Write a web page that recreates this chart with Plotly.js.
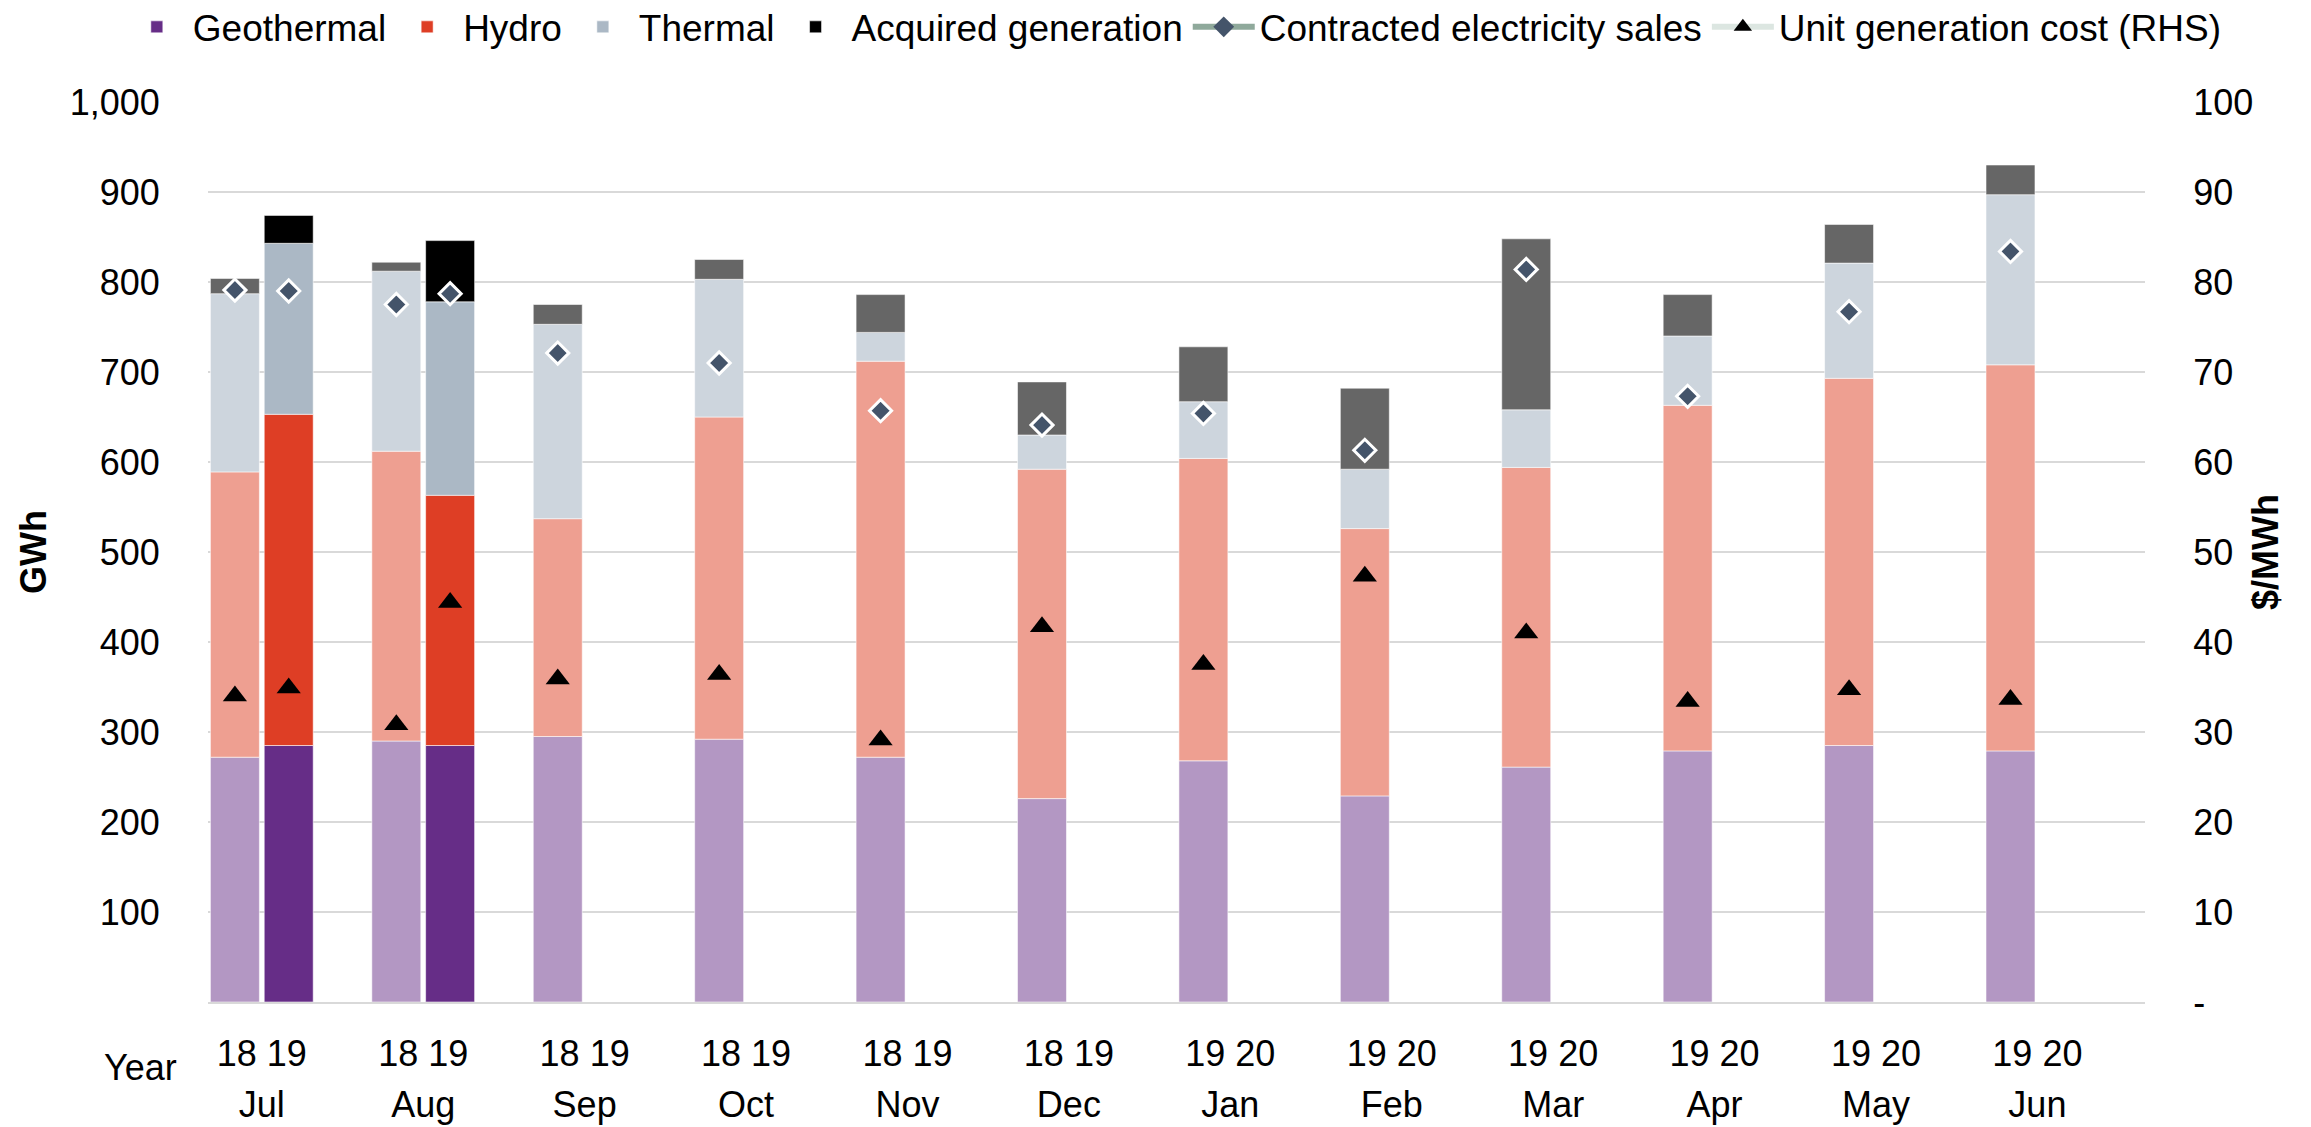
<!DOCTYPE html>
<html>
<head>
<meta charset="utf-8">
<script src="https://cdn.plot.ly/plotly-3.0.1.min.js"></script>
<style>html,body{margin:0;padding:0;background:#fff;}#chart{width:2311px;height:1127px;}</style>
</head>
<body>
<div id="chart"></div>
<script>
// ---- Data ----
const months = ['Jul','Aug','Sep','Oct','Nov','Dec','Jan','Feb','Mar','Apr','May','Jun'];
const priorYear = ['18','18','18','18','18','18','19','19','19','19','19','19'];
const currentYear = ['19','19','19','19','19','19','20','20','20','20','20','20'];

// prior-year (faded) bars, GWh
const geoPrior     = [272, 290, 295, 292, 272, 226, 268, 229, 261, 279, 285, 279];
const hydroPrior   = [317, 322, 242, 358, 440, 366, 336, 297, 333, 384, 408, 429];
const thermalPrior = [198, 200, 216, 153,  32,  38,  63,  66,  64,  77, 128, 189];
const acqPrior     = [ 17,  10,  22,  22,  42,  59,  61,  90, 190,  46,  43,  33];
const salesPrior   = [791, 775, 721, 710, 657, 641, 654, 613, 814, 673, 767, 834];
const costPrior    = [34.0, 30.8, 35.9, 36.4, 29.1, 41.7, 37.5, 47.3, 41.0, 33.4, 34.7, 33.6];

// current-year (solid) bars, GWh
const geoCur     = [285, 285, null, null, null, null, null, null, null, null, null, null];
const hydroCur   = [368, 278, null, null, null, null, null, null, null, null, null, null];
const thermalCur = [190, 215, null, null, null, null, null, null, null, null, null, null];
const acqCur     = [ 31,  68, null, null, null, null, null, null, null, null, null, null];
const salesCur   = [790, 787, null, null, null, null, null, null, null, null, null, null];
const costCur    = [34.9, 44.4, null, null, null, null, null, null, null, null, null, null];

// axis ticks
const leftTicks = [100, 200, 300, 400, 500, 600, 700, 800, 900, 1000];
const rightTicks = [0, 10, 20, 30, 40, 50, 60, 70, 80, 90, 100];
const rightTickText = ['-', '10', '20', '30', '40', '50', '60', '70', '80', '90', '100'];

// ---- Layout helpers ----
const SLOTS = 3; // prior, current, spacer
const xPrior = months.map((m, i) => i * SLOTS);
const xCur = months.map((m, i) => i * SLOTS + 1);
const xTick = months.map((m, i) => i * SLOTS + 0.5);
const yearTickText = months.map((m, i) => priorYear[i] + ' ' + currentYear[i]);
const xRange = [-0.5, months.length * SLOTS - 0.5];

const FONT = 'Liberation Sans, Arial, sans-serif';
const FS = 36;
const BW = 0.91;
const edge = {color: 'rgba(255,255,255,0.55)', width: 1};

function bar(name, x, y, color, showlegend) {
  return {type: 'bar', name: name, x: x, y: y, width: BW,
    marker: {color: color, line: edge}, showlegend: showlegend, hoverinfo: 'y+name'};
}

const traces = [
  bar('Geothermal', xPrior, geoPrior, '#B397C3', false),
  bar('Geothermal', xCur, geoCur, '#662D87', true),
  bar('Hydro', xPrior, hydroPrior, '#EE9F91', false),
  bar('Hydro', xCur, hydroCur, '#DE3E25', true),
  bar('Thermal', xPrior, thermalPrior, '#CDD5DD', false),
  bar('Thermal', xCur, thermalCur, '#ABB8C5', true),
  bar('Acquired generation', xPrior, acqPrior, '#666666', false),
  bar('Acquired generation', xCur, acqCur, '#000000', true),
  // legend entries for the marker series
  {type: 'scatter', mode: 'lines+markers', x: [null], y: [null], name: 'Contracted electricity sales',
    line: {color: '#8FA99B', width: 6},
    marker: {symbol: 'diamond', size: 16, color: '#44546A', line: {color: '#FFFFFF', width: 0}}},
  {type: 'scatter', mode: 'lines+markers', x: [null], y: [null], name: 'Unit generation cost (RHS)',
    line: {color: '#DCE6E1', width: 6},
    marker: {symbol: 'triangle-up', size: 20, color: '#000000'}},
  // actual markers
  {type: 'scatter', mode: 'markers', x: xPrior.concat(xCur), y: salesPrior.concat(salesCur),
    name: 'Contracted electricity sales', showlegend: false,
    marker: {symbol: 'diamond', size: 17, color: '#44546A', line: {color: '#FFFFFF', width: 3}}},
  {type: 'scatter', mode: 'markers', x: xPrior.concat(xCur), y: costPrior.concat(costCur),
    xaxis: 'x2', yaxis: 'y2',
    name: 'Unit generation cost (RHS)', showlegend: false,
    marker: {symbol: 'triangle-up', size: 21, color: '#000000'}}
];

const transparent = 'rgba(0,0,0,0)';
const layout = {
  width: 2311, height: 1127,
  margin: {l: 208, r: 166, t: 102, b: 125, autoexpand: false},
  paper_bgcolor: '#FFFFFF', plot_bgcolor: '#FFFFFF',
  font: {family: FONT, size: FS, color: '#000000'},
  barmode: 'relative',
  showlegend: true,
  legend: {orientation: 'h', x: -0.045, y: 1.083, xanchor: 'left', yanchor: 'middle',
    font: {family: FONT, size: 37, color: '#000000'}, itemwidth: 62, traceorder: 'normal',
    bgcolor: 'rgba(0,0,0,0)'},
  xaxis: {range: xRange, tickmode: 'array', tickvals: xTick, ticktext: yearTickText,
    ticks: 'outside', ticklen: 19, tickcolor: transparent,
    showgrid: false, zeroline: false, showline: true, linecolor: '#D9D9D9', linewidth: 2,
    tickfont: {family: FONT, size: FS, color: '#000000'}, fixedrange: true},
  xaxis2: {range: xRange, overlaying: 'x', anchor: 'y2', side: 'bottom',
    tickmode: 'array', tickvals: xTick, ticktext: months,
    ticks: 'outside', ticklen: 71, tickcolor: transparent,
    showgrid: false, zeroline: false, showline: false,
    tickfont: {family: FONT, size: FS, color: '#000000'}, fixedrange: true},
  yaxis: {range: [0, 1000], tickmode: 'array', tickvals: leftTicks, tickformat: ',',
    ticks: 'outside', ticklen: 40, tickcolor: transparent,
    showgrid: true, gridcolor: '#D9D9D9', gridwidth: 2, zeroline: false, showline: false,
    title: {text: '<b>GWh</b>', font: {family: FONT, size: FS, color: '#000000'}, standoff: 12},
    tickfont: {family: FONT, size: FS, color: '#000000'}, fixedrange: true},
  yaxis2: {range: [0, 100], overlaying: 'y', side: 'right', anchor: 'x2',
    tickmode: 'array', tickvals: rightTicks, ticktext: rightTickText,
    ticks: 'outside', ticklen: 40, tickcolor: transparent,
    showgrid: false, zeroline: false, showline: false,
    title: {text: '<b>$/MWh</b>', font: {family: FONT, size: FS, color: '#000000'}, standoff: 0},
    tickfont: {family: FONT, size: FS, color: '#000000'}, fixedrange: true},
  annotations: [
    {text: 'Year', xref: 'paper', yref: 'paper', x: -0.0346, y: -0.0733,
     xanchor: 'center', yanchor: 'middle', showarrow: false,
     font: {family: FONT, size: FS, color: '#000000'}}
  ]
};

Plotly.newPlot('chart', traces, layout, {displayModeBar: false, staticPlot: true});
</script>
</body>
</html>
